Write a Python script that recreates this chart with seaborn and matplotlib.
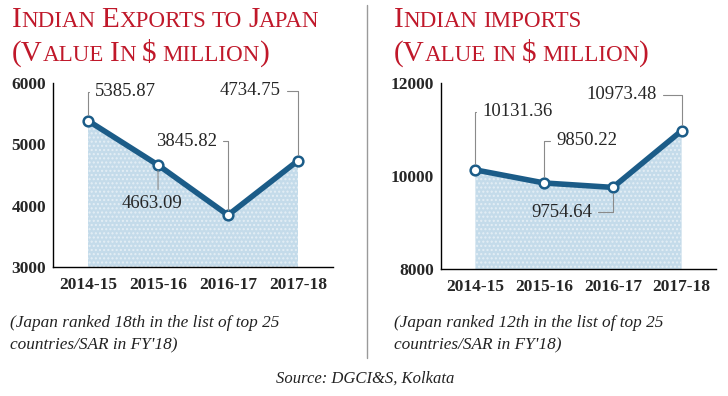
import matplotlib
matplotlib.use("Agg")
import matplotlib.pyplot as plt
import seaborn as sns
import numpy as np

# ---- data ----
years = ["2014-15", "2015-16", "2016-17", "2017-18"]
exports = [5385.87, 4663.09, 3845.82, 4734.75]
imports = [10131.36, 9850.22, 9754.64, 10973.48]
export_ticks = [3000, 4000, 5000, 6000]
import_ticks = [8000, 10000, 12000]
caption_left = "(Japan ranked 18th in the list of top 25\ncountries/SAR in FY'18)"
caption_right = "(Japan ranked 12th in the list of top 25\ncountries/SAR in FY'18)"
source = "Source: DGCI&S, Kolkata"

sns.set_style("white")
plt.rcParams["font.family"] = ["Liberation Serif", "DejaVu Serif"]

W, H = 728, 396
fig = plt.figure(figsize=(W / 100, H / 100), dpi=100)

LINE = "#1b5c88"
FILL = "#c4dbea"
RED = "#c0182a"
GREY = "#8a8a8a"


def fx(px):
    return px / W


def fy(py):
    return 1 - py / H


axL = fig.add_axes([fx(53), fy(267), fx(333) - fx(53), fy(83) - fy(267)])
axR = fig.add_axes([fx(441), fy(269), fx(716) - fx(441), fy(83) - fy(269)])


def draw(ax, vals, ticks, labels):
    xs = np.arange(len(years))
    ax.set_xlim(-0.5, len(years) - 0.5)
    ax.set_ylim(ticks[0], ticks[-1])
    ax.fill_between(xs, vals, ticks[0], facecolor=FILL, hatch="....",
                    edgecolor="#e4eef5", linewidth=0, zorder=1)
    sns.lineplot(x=xs, y=vals, ax=ax, color=LINE, linewidth=4, zorder=3,
                 marker="o", markersize=7, markerfacecolor="white",
                 markeredgecolor=LINE, markeredgewidth=1.8)
    ax.set_xticks(xs)
    ax.set_xticklabels(years)
    ax.set_xticks(xs + 0.5, minor=True)
    ax.tick_params(axis="x", which="major", length=0, pad=7,
                   labelsize=12.5)
    ax.tick_params(axis="x", which="minor", length=5, direction="in",
                   width=1, color="black")
    ax.set_yticks(ticks)
    ax.tick_params(axis="y", length=5, direction="in", width=1, pad=5,
                   labelsize=12.5)
    for lab in ax.get_xticklabels() + ax.get_yticklabels():
        lab.set_fontweight("bold")
    for s in ["top", "right"]:
        ax.spines[s].set_visible(False)
    for s in ["left", "bottom"]:
        ax.spines[s].set_color("black")
        ax.spines[s].set_linewidth(1)
    ax.set_xlabel("")
    ax.set_ylabel("")
    for (i, v), (dx, dy, ha, rel, style) in zip(enumerate(vals), labels):
        ax.annotate(f"{v:.2f}", xy=(i, v), xytext=(dx, dy),
                    textcoords="offset pixels", ha=ha, va="center",
                    fontsize=13.5, zorder=4,
                    arrowprops=dict(arrowstyle="-", color=GREY, lw=0.8,
                                    relpos=rel, shrinkA=2, shrinkB=4,
                                    connectionstyle=style))


elbow = "angle,angleA=0,angleB=90,rad=0"
draw(axL, exports, export_ticks, [
    (7, 29, "left", (0, 0.5), elbow),
    (-6, -39, "center", (0.6, 1), "arc3"),
    (-11, 74, "right", (1, 0.5), elbow),
    (-17, 70, "right", (1, 0.5), elbow),
])
draw(axR, imports, import_ticks, [
    (7, 58, "left", (0, 0.5), elbow),
    (12, 42, "left", (0, 0.5), elbow),
    (-21, -25, "right", (1, 0.5), elbow),
    (-25, 36, "right", (1, 0.5), elbow),
])

# ---- small-caps titles ----
renderer = fig.canvas.get_renderer()
LG, SM = 21, 16.6


def smallcaps(x0, base, parts):
    x = x0
    for s, big in parts:
        t = fig.text(fx(x), fy(base), s, fontsize=LG if big else SM,
                     color=RED, ha="left", va="baseline")
        bb = t.get_window_extent(renderer)
        x = bb.x1


smallcaps(12, 27, [("I", 1), ("NDIAN", 0), (" ", 0), ("E", 1), ("XPORTS", 0),
                   (" ", 0), ("TO", 0), (" ", 0), ("J", 1), ("APAN", 0)])
smallcaps(12, 61, [("(V", 1), ("ALUE", 0), (" ", 0), ("I", 1), ("N", 0),
                   (" ", 0), ("$", 1), (" ", 0), ("MILLION", 0), (")", 1)])
smallcaps(394, 27, [("I", 1), ("NDIAN", 0), (" ", 0), ("IMPORTS", 0)])
smallcaps(394, 61, [("(V", 1), ("ALUE", 0), (" ", 0), ("IN", 0), (" ", 0),
                    ("$", 1), (" ", 0), ("MILLION", 0), (")", 1)])

# ---- separator, captions, source ----
fig.add_artist(plt.Line2D([fx(367), fx(367)], [fy(5), fy(358)],
                          color="#9a9a9a", lw=1))
fig.text(fx(10), fy(315), caption_left, fontsize=12.4, style="italic",
         color="#222222", ha="left", va="top", linespacing=1.5)
fig.text(fx(394), fy(315), caption_right, fontsize=12.4, style="italic",
         color="#222222", ha="left", va="top", linespacing=1.5)
fig.text(fx(365), fy(379), source, fontsize=12, style="italic",
         color="#222222", ha="center", va="center")

fig.savefig("out.png", dpi=100)
